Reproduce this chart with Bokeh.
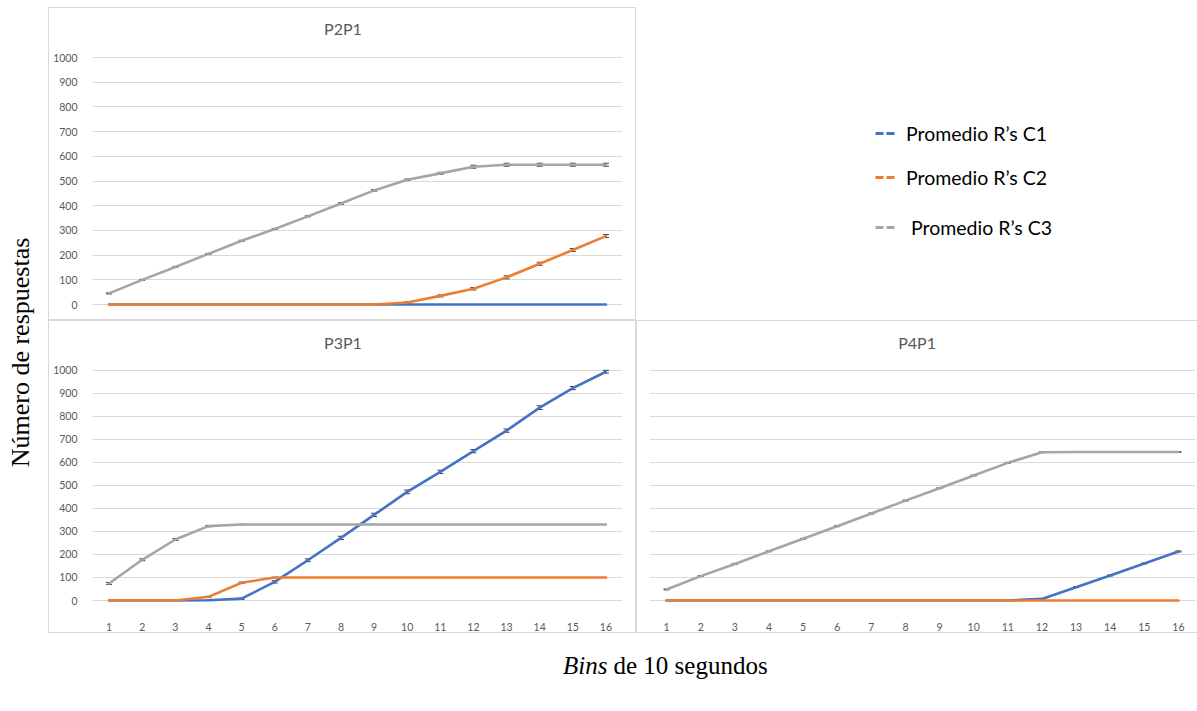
import math
from bokeh.plotting import figure
from bokeh.models import (Range1d, FixedTicker, Whisker, TeeHead, ColumnDataSource,
                          Legend, LegendItem, Label, Spacer)
from bokeh.layouts import row, column
from bokeh.embed import file_html
from bokeh.resources import INLINE

# ---------------- data ----------------
bins = [1, 2, 3, 4, 5, 6, 7, 8, 9, 10, 11, 12, 13, 14, 15, 16]
y_ticks = [0, 100, 200, 300, 400, 500, 600, 700, 800, 900, 1000]

series_names = ["Promedio R\u2019s C1", "Promedio R\u2019s C2", "Promedio R\u2019s C3"]
panel_titles = ["P2P1", "P3P1", "P4P1"]

# P2P1
p2_c1 = [0, 0, 0, 0, 0, 0, 0, 0, 0, 0, 0, 0, 0, 0, 0, 0]
p2_c2 = [0, 0, 0, 0, 0, 0, 0, 0, 0, 8, 35, 64, 110, 165, 221, 277]
p2_c3 = [45, 100, 152, 205, 258, 306, 357, 409, 462, 505, 531, 558, 566, 566, 566, 566]
p2_e1 = [0, 0, 0, 0, 0, 0, 0, 0, 0, 0, 0, 0, 0, 0, 0, 0]
p2_e2 = [0, 0, 0, 0, 0, 0, 0, 0, 0, 3, 4, 5, 6, 6, 6, 6]
p2_e3 = [2, 2, 2, 2, 2, 2, 2, 3, 3, 3, 4, 6, 6, 6, 6, 6]

# P3P1
p3_c1 = [0, 0, 0, 1, 8, 81, 175, 272, 372, 472, 559, 649, 738, 838, 923, 994]
p3_c2 = [0, 0, 0, 16, 77, 100, 100, 100, 100, 100, 100, 100, 100, 100, 100, 100]
p3_c3 = [74, 177, 265, 323, 330, 330, 330, 330, 330, 330, 330, 330, 330, 330, 330, 330]
p3_e1 = [0, 0, 0, 1, 3, 5, 6, 7, 7, 8, 7, 7, 7, 8, 7, 6]
p3_e2 = [0, 0, 0, 2, 3, 1, 0, 0, 0, 0, 0, 0, 0, 0, 0, 0]
p3_e3 = [4, 4, 4, 3, 1, 0, 0, 0, 0, 0, 0, 0, 0, 0, 0, 0]

# P4P1
p4_c1 = [0, 0, 0, 0, 0, 0, 0, 0, 0, 0, 0, 7, 58, 109, 161, 213]
p4_c2 = [0, 0, 0, 0, 0, 0, 0, 0, 0, 0, 0, 0, 0, 0, 0, 0]
p4_c3 = [48, 106, 159, 214, 268, 323, 378, 434, 488, 543, 598, 644, 645, 645, 645, 645]
p4_e1 = [0, 0, 0, 0, 0, 0, 0, 0, 0, 0, 0, 1, 2, 2, 2, 2]
p4_e2 = [0, 0, 0, 0, 0, 0, 0, 0, 0, 0, 0, 0, 0, 0, 0, 0]
p4_e3 = [2, 2, 2, 2, 2, 2, 2, 2, 2, 2, 2, 2, 1, 1, 1, 1]

colors = ["#4472C4", "#ED7D31", "#A5A5A5"]
GRID = "#d9d9d9"
TXT = "#595959"
FONT = "Lato"


def make_panel(title, values, errors, w, h, bl, br, bb, show_y, show_x,
               title_x, title_y, shadow, y_lo, y_hi):
    p = figure(width=w, height=h, output_backend="svg", toolbar_location=None,
               x_range=Range1d(0.5, 16.5), y_range=Range1d(y_lo, y_hi),
               min_border_left=bl, min_border_right=br,
               min_border_top=0, min_border_bottom=bb)
    p.border_fill_color = None
    p.background_fill_color = None
    p.outline_line_color = None
    p.styles = {"box-shadow": shadow}

    p.add_layout(Label(x=title_x, y=title_y, text=title, text_align="center",
                       text_baseline="middle", text_font=FONT,
                       text_font_size="16px", text_color=TXT))

    p.xgrid.visible = False
    p.ygrid.grid_line_color = GRID
    p.ygrid.grid_line_width = 1

    p.yaxis.ticker = FixedTicker(ticks=y_ticks)
    p.yaxis.axis_line_color = None
    p.yaxis.major_tick_line_color = None
    p.yaxis.minor_tick_line_color = None
    p.yaxis.major_label_text_font = FONT
    p.yaxis.major_label_text_font_size = "10.5px"
    p.yaxis.major_label_text_color = TXT
    p.yaxis.major_label_standoff = 9
    if not show_y:
        p.yaxis.visible = False

    p.xaxis.ticker = FixedTicker(ticks=bins)
    p.xaxis.axis_line_color = None
    p.xaxis.major_tick_line_color = None
    p.xaxis.minor_tick_line_color = None
    p.xaxis.major_label_text_font = FONT
    p.xaxis.major_label_text_font_size = "10.5px"
    p.xaxis.major_label_text_color = TXT
    p.xaxis.major_label_standoff = 13
    if not show_x:
        p.xaxis.visible = False

    for vals, errs, col in zip(values, errors, colors):
        p.line(x=bins, y=vals, line_color=col, line_width=2.6,
               line_join="round", line_cap="round")
    for vals, errs in zip(values, errors):
        idx = [i for i, e in enumerate(errs) if e > 0]
        if not idx:
            continue
        wsrc = ColumnDataSource(dict(
            x=[bins[i] for i in idx],
            upper=[vals[i] + errs[i] for i in idx],
            lower=[vals[i] - errs[i] for i in idx]))
        wk = Whisker(source=wsrc, base="x", upper="upper", lower="lower",
                     dimension="height", line_color="#404040", line_width=1,
                     upper_head=TeeHead(size=6, line_color="#404040", line_width=1),
                     lower_head=TeeHead(size=6, line_color="#404040", line_width=1))
        p.add_layout(wk)
    return p


box4 = "inset 0 0 0 1px " + GRID
box3 = "inset 1px 1px 0 0 " + GRID + ", inset 0 -1px 0 0 " + GRID

p2 = make_panel(panel_titles[0], [p2_c1, p2_c2, p2_c3], [p2_e1, p2_e2, p2_e3],
                588, 313, 44, 14, 13, True, False, 8.06, 1117.4, box4, -12, 1202.4)
p3 = make_panel(panel_titles[1], [p3_c1, p3_c2, p3_c3], [p3_e1, p3_e2, p3_e3],
                588, 313, 44, 14, 29, True, True, 8.06, 1121.2, box4, -13, 1216.5)
p4 = make_panel(panel_titles[2], [p4_c1, p4_c2, p4_c3], [p4_e1, p4_e2, p4_e3],
                561, 313, 13, 2, 29, False, True, 8.34, 1121.2, box3, -13, 1216.5)

# ---------------- legend panel ----------------
leg = figure(width=561, height=313, output_backend="svg", toolbar_location=None,
             x_range=Range1d(0, 1), y_range=Range1d(0, 1),
             min_border_left=0, min_border_top=0, min_border_right=0,
             min_border_bottom=13)
leg.axis.visible = False
leg.grid.visible = False
leg.outline_line_color = None
leg.border_fill_color = None
leg.background_fill_color = None
leg_bottoms = [161, 117, 67]
leg_standoffs = [11, 11, 16]
for name, col, vb, so in zip(series_names, colors, leg_bottoms, leg_standoffs):
    r = leg.line(x=[-2, -1], y=[-2, -2], line_color=col, line_width=3, line_dash="8 3")
    lg = Legend(items=[LegendItem(label=name, renderers=[r])], location=(239, vb),
                margin=0, padding=0, glyph_width=20, glyph_height=26, label_height=26,
                label_standoff=so, label_text_font=FONT,
                label_text_font_size="19.5px", label_text_color="black",
                border_line_color=None, background_fill_alpha=0)
    leg.add_layout(lg)

# ---------------- axis titles ----------------
ylab = figure(width=48, height=633, output_backend="svg", toolbar_location=None,
              x_range=Range1d(0, 48), y_range=Range1d(0, 633),
              min_border_left=0, min_border_right=0, min_border_top=0, min_border_bottom=0)
ylab.axis.visible = False
ylab.grid.visible = False
ylab.outline_line_color = None
ylab.add_layout(Label(x=20, y=281, text="N\u00famero de respuestas", angle=math.pi / 2,
                      text_align="center", text_baseline="middle",
                      text_font="Liberation Serif", text_font_size="26px",
                      text_color="black"))

xlab = figure(width=1197, height=76, output_backend="svg", toolbar_location=None,
              x_range=Range1d(0, 1197), y_range=Range1d(0, 76),
              min_border_left=0, min_border_right=0, min_border_top=0, min_border_bottom=0)
xlab.axis.visible = False
xlab.grid.visible = False
xlab.outline_line_color = None
xlab.add_layout(Label(x=607, y=44, text="Bins", text_align="right", text_baseline="middle",
                      text_font="Liberation Serif", text_font_size="25px",
                      text_font_style="italic", text_color="black"))
xlab.add_layout(Label(x=613, y=44, text="de 10 segundos", text_align="left",
                      text_baseline="middle", text_font="Liberation Serif",
                      text_font_size="25px", text_color="black"))

right = column(Spacer(width=1149, height=7), row(p2, leg), row(p3, p4))
layout = column(row(ylab, right), xlab)

open("out.html", "w").write(file_html(layout, INLINE, "chart"))
